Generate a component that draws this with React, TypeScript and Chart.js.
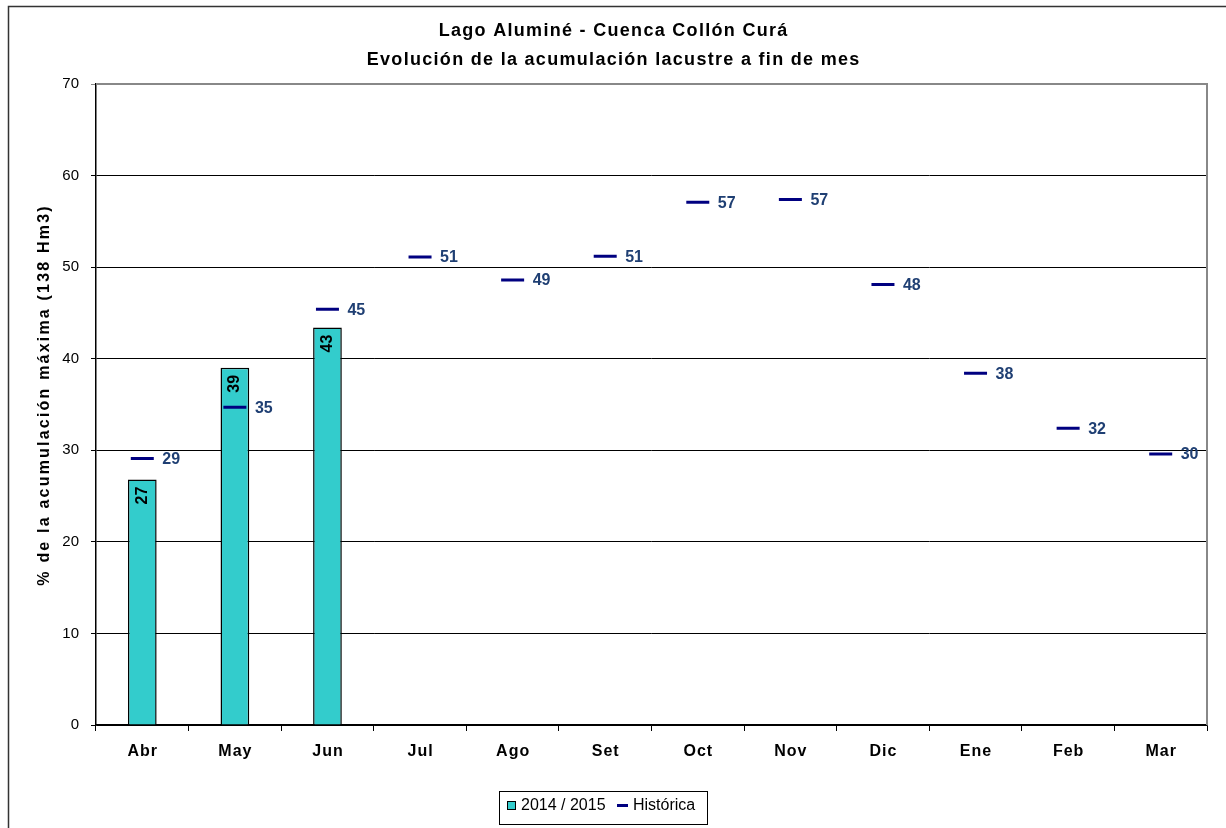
import React, { useEffect, useRef } from "react";
import { Chart, registerables } from "chart.js";

Chart.register(...registerables);

const months = ["Abr", "May", "Jun", "Jul", "Ago", "Set", "Oct", "Nov", "Dic", "Ene", "Feb", "Mar"];
const season = [26.8, 39.0, 43.4, null, null, null, null, null, null, null, null, null];
const historica = [29.1, 34.7, 45.4, 51.1, 48.6, 51.2, 57.1, 57.4, 48.1, 38.4, 32.4, 29.6];
const yTicks = [0, 10, 20, 30, 40, 50, 60, 70];
const titleLines = ["Lago Aluminé - Cuenca Collón Curá", "Evolución de la acumulación lacustre a fin de mes"];
const yTitle = "% de la acumulación máxima (138 Hm3)";
const seriesNames = ["2014 / 2015", "Histórica"];

const FONT = "'Liberation Sans', Arial, sans-serif";

function spacedText(ctx: any, text: string, x: number, y: number, spacing: number) {
  ctx.letterSpacing = spacing + "px";
  // compensate trailing spacing for centered text
  const off = ctx.textAlign === "center" ? spacing / 2 : 0;
  ctx.fillText(text, x + off, y);
  ctx.letterSpacing = "0px";
}

const decorPlugin = {
  id: "decor",
  afterDraw(chart: any) {
    const ctx = chart.ctx;
    const ca = chart.chartArea;
    ctx.save();
    // outer border (left & top)
    ctx.strokeStyle = "#333";
    ctx.lineWidth = 1.5;
    ctx.beginPath();
    ctx.moveTo(8.5, 900);
    ctx.lineTo(8.5, 6.5);
    ctx.lineTo(1300, 6.5);
    ctx.stroke();
    // plot border top/right gray
    ctx.strokeStyle = "#888";
    ctx.lineWidth = 2;
    ctx.beginPath();
    ctx.moveTo(ca.left, ca.top);
    ctx.lineTo(ca.right, ca.top);
    ctx.lineTo(ca.right, ca.bottom);
    ctx.stroke();
    // titles
    ctx.fillStyle = "#000";
    ctx.font = `bold 18px ${FONT}`;
    ctx.textAlign = "center";
    ctx.textBaseline = "middle";
    spacedText(ctx, titleLines[0], 613, 31, 1.3);
    spacedText(ctx, titleLines[1], 613, 60, 1.3);
    // y title
    ctx.save();
    ctx.translate(45, 396);
    ctx.rotate(-Math.PI / 2);
    ctx.font = `bold 16px ${FONT}`;
    spacedText(ctx, yTitle, 0, 0, 2.2);
    ctx.restore();
    // x labels
    const xs = chart.scales.x;
    ctx.font = `bold 16px ${FONT}`;
    months.forEach((m, i) => {
      spacedText(ctx, m, xs.getPixelForValue(i), 752, 1);
    });
    // legend
    ctx.strokeStyle = "#000";
    ctx.lineWidth = 1;
    ctx.strokeRect(499.5, 791.5, 208, 33);
    ctx.fillStyle = "#33CCCC";
    ctx.fillRect(507, 801, 9, 9);
    ctx.strokeRect(507.5, 801.5, 8, 8);
    ctx.fillStyle = "#000";
    ctx.font = `16px ${FONT}`;
    ctx.textAlign = "left";
    ctx.fillText(seriesNames[0], 521, 806);
    ctx.strokeStyle = "#000080";
    ctx.lineWidth = 3;
    ctx.beginPath();
    ctx.moveTo(617, 805.5);
    ctx.lineTo(628, 805.5);
    ctx.stroke();
    ctx.fillText(seriesNames[1], 633, 806);

    // data labels
    const barMeta = chart.getDatasetMeta(0);
    ctx.font = `bold 16px ${FONT}`;
    ctx.fillStyle = "#000";
    barMeta.data.forEach((el: any, i: number) => {
      const v = season[i];
      if (v == null) return;
      ctx.save();
      ctx.translate(el.x, el.y + 7);
      ctx.rotate(-Math.PI / 2);
      ctx.textAlign = "right";
      ctx.textBaseline = "middle";
      ctx.fillText(String(Math.round(v)), 0, 0);
      ctx.restore();
    });
    const lineMeta = chart.getDatasetMeta(1);
    ctx.fillStyle = "#1F3F73";
    ctx.textAlign = "left";
    ctx.textBaseline = "middle";
    lineMeta.data.forEach((el: any, i: number) => {
      ctx.fillText(String(Math.round(historica[i])), el.x + 20, el.y + 1);
    });
    ctx.restore();
  },
};

export default function App() {
  const ref = useRef<HTMLCanvasElement>(null);
  useEffect(() => {
    document.body.style.margin = "0";
    document.body.style.overflow = "hidden";
    const chart = new Chart(ref.current!, {
      type: "bar",
      data: {
        labels: months,
        datasets: [
          {
            type: "bar",
            label: seriesNames[0],
            data: season as any,
            backgroundColor: "#33CCCC",
            borderColor: "#000",
            borderWidth: 1.5,
            categoryPercentage: 1,
            barPercentage: 0.31,
            order: 2,
          },
          {
            type: "line",
            label: seriesNames[1],
            data: historica,
            showLine: false,
            pointStyle: "line",
            pointRadius: 11.5,
            pointBorderWidth: 3,
            borderColor: "#000080",
            backgroundColor: "#000080",
            order: 1,
          } as any,
        ],
      },
      options: {
        animation: false,
        responsive: false,
        maintainAspectRatio: false,
        layout: { padding: { top: 84, right: 19, left: 0, bottom: 0 } },
        plugins: { legend: { display: false }, title: { display: false }, tooltip: { enabled: false } },
        scales: {
          x: {
            offset: true,
            grid: { offset: true, drawOnChartArea: false, drawTicks: true, tickLength: 6, color: "#000" },
            border: { color: "#000", width: 1.5 },
            ticks: { display: false },
            afterFit(scale: any) { scale.height = 103; },
          },
          y: {
            min: 0,
            max: 70,
            afterBuildTicks(scale: any) { scale.ticks = yTicks.map((v) => ({ value: v })); },
            grid: {
              color: (c: any) => (c.tick && c.tick.value === 70 ? "#888" : "#000"),
              lineWidth: 1,
              tickLength: 5,
              drawTicks: true,
            },
            border: { color: "#000", width: 1.5 },
            ticks: { color: "#000", font: { family: FONT, size: 15 }, padding: 12 },
            afterFit(scale: any) { scale.width = 96; },
          },
        },
      },
      plugins: [decorPlugin],
    });
    return () => chart.destroy();
  }, []);
  return <canvas ref={ref} width={1226} height={828} style={{ display: "block" }} />;
}
